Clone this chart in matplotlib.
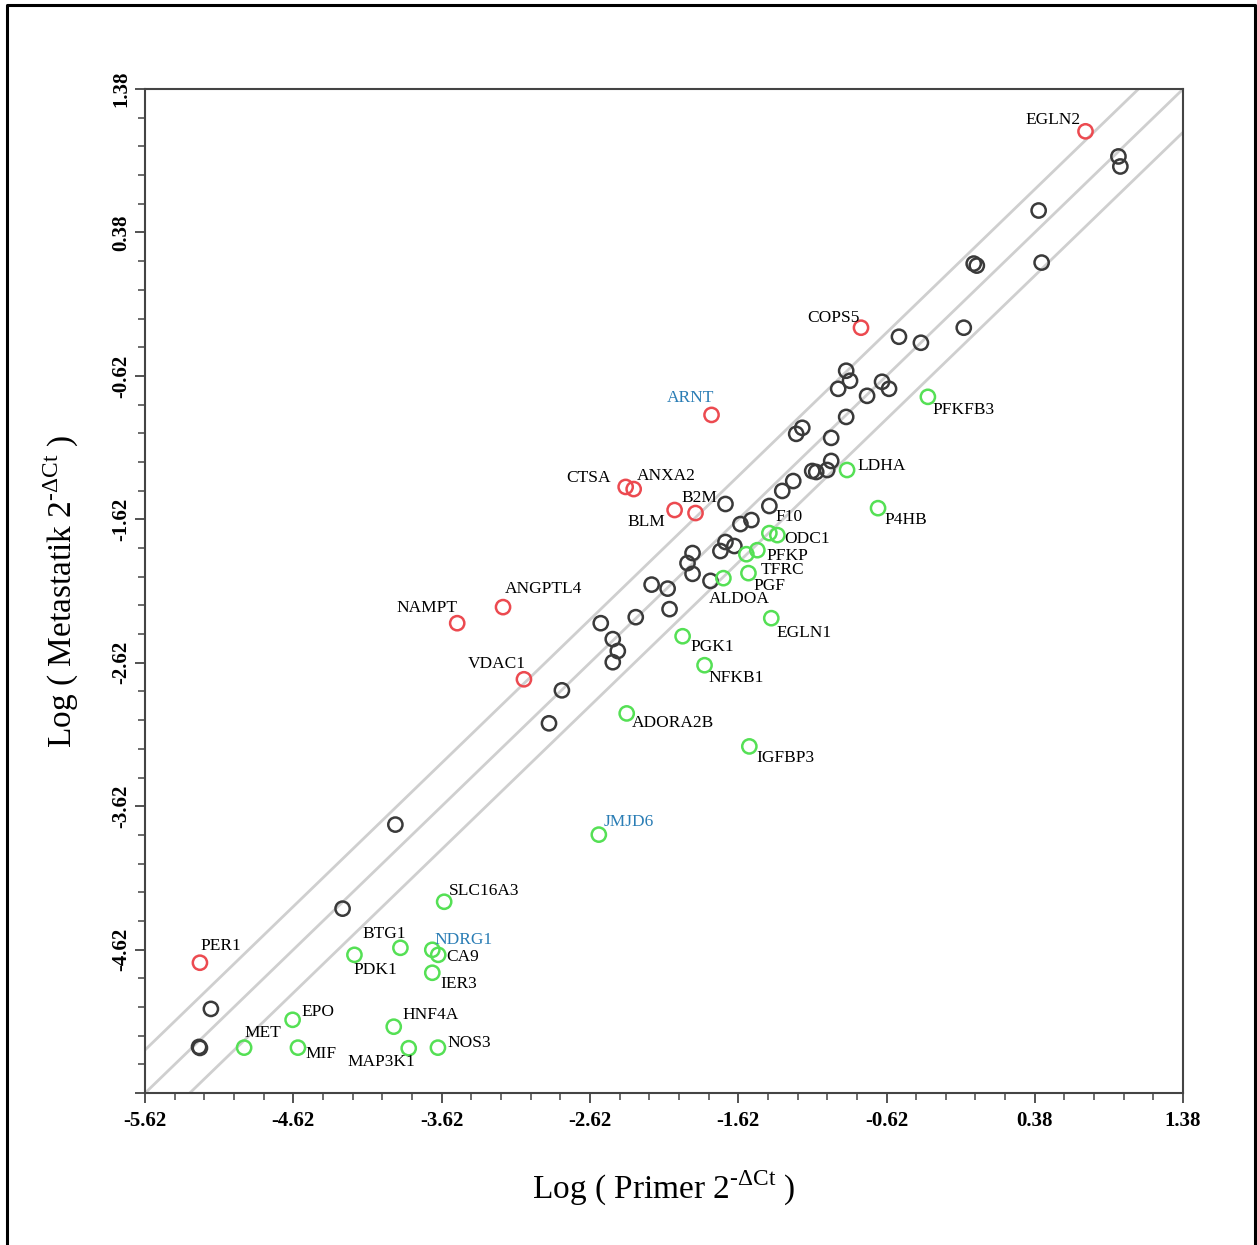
import matplotlib
matplotlib.use('Agg')
import matplotlib.pyplot as plt
import numpy as np
from matplotlib.ticker import FixedLocator

plt.rcParams['font.family'] = ['Liberation Serif', 'DejaVu Serif']
plt.rcParams['mathtext.fontset'] = 'custom'
plt.rcParams['mathtext.rm'] = 'Liberation Serif'

# genes without label (grey circles)
grey_x = [0.944, 0.957, 0.406, -0.032, -0.011, 0.426, -0.099, -0.388, -0.536,
          -0.892, -0.866, -0.946, -0.650, -0.603, -0.751, -0.892, -1.229, -1.188,
          -0.993, -0.993, -1.020, -1.121, -1.094, -1.249, -1.323, -1.410, -1.706,
          -1.531, -1.605, -1.706, -1.646, -1.740, -1.928, -1.962, -1.928, -1.807,
          -2.204, -2.096, -2.083, -2.311, -2.547, -2.466, -2.432, -2.466, -2.809,
          -2.896, -3.932, -4.288, -5.176, -5.250, -5.256]
grey_y = [0.910, 0.840, 0.533, 0.163, 0.149, 0.170, -0.284, -0.389, -0.347,
          -0.584, -0.654, -0.710, -0.661, -0.710, -0.759, -0.906, -1.024, -0.982,
          -1.052, -1.213, -1.276, -1.283, -1.290, -1.353, -1.422, -1.527, -1.513,
          -1.625, -1.653, -1.778, -1.806, -1.841, -1.855, -1.925, -2.000, -2.049,
          -2.075, -2.103, -2.246, -2.302, -2.344, -2.455, -2.538, -2.616, -2.812,
          -3.042, -3.748, -4.334, -5.033, -5.305, -5.298]

# up-regulated in metastatic (red)
red_genes = ['EGLN2', 'COPS5', 'ARNT', 'CTSA', 'ANXA2', 'BLM', 'B2M',
             'ANGPTL4', 'NAMPT', 'VDAC1', 'PER1']
red_x = [0.722, -0.792, -1.800, -2.379, -2.325, -2.049, -1.908,
         -3.206, -3.515, -3.065, -5.250]
red_y = [1.085, -0.284, -0.892, -1.394, -1.409, -1.555, -1.576,
         -2.232, -2.344, -2.735, -4.711]

# down-regulated in metastatic (green)
green_genes = ['PFKFB3', 'LDHA', 'P4HB', 'F10', 'ODC1', 'PFKP', 'TFRC', 'PGF',
               'ALDOA', 'EGLN1', 'PGK1', 'NFKB1', 'ADORA2B', 'IGFBP3', 'JMJD6',
               'SLC16A3', 'BTG1', 'PDK1', 'NDRG1', 'CA9', 'IER3', 'EPO', 'HNF4A',
               'MET', 'MIF', 'MAP3K1', 'NOS3']
green_x = [-0.341, -0.886, -0.677, -1.410, -1.356, -1.491, -1.565, -1.551,
           -1.720, -1.397, -1.995, -1.847, -2.372, -1.545, -2.560,
           -3.603, -3.898, -4.208, -3.683, -3.643, -3.683, -4.625, -3.943,
           -4.952, -4.589, -3.842, -3.645]
green_y = [-0.766, -1.276, -1.542, -1.716, -1.730, -1.835, -1.863, -1.995,
           -2.030, -2.309, -2.435, -2.637, -2.973, -3.203, -3.818,
           -4.286, -4.607, -4.656, -4.621, -4.656, -4.781, -5.109, -5.157,
           -5.303, -5.303, -5.307, -5.303]

blue_labels = ['ARNT', 'JMJD6', 'NDRG1']

# label offsets in pixels (dx, dy)
offsets = {
    'EGLN2': (-32, 11), 'COPS5': (-28, 10), 'ARNT': (-21, 17), 'CTSA': (-37, 9),
    'ANXA2': (33, 13), 'BLM': (-28, -12), 'B2M': (4, 15), 'ANGPTL4': (40, 18),
    'NAMPT': (-30, 15), 'VDAC1': (-27, 15), 'PER1': (21, 17),
    'PFKFB3': (36, -13), 'LDHA': (35, 4), 'P4HB': (28, -12), 'F10': (20, 16),
    'ODC1': (30, -4), 'PFKP': (30, -6), 'TFRC': (36, -16), 'PGF': (21, -13),
    'ALDOA': (16, -21), 'EGLN1': (33, -15), 'PGK1': (30, -11), 'NFKB1': (32, -13),
    'ADORA2B': (46, -10), 'IGFBP3': (36, -12), 'JMJD6': (30, 13),
    'SLC16A3': (40, 11), 'BTG1': (-16, 14), 'PDK1': (21, -15), 'NDRG1': (31, 10),
    'CA9': (24, -2), 'IER3': (26, -11), 'EPO': (25, 8), 'HNF4A': (37, 12),
    'MET': (19, 15), 'MIF': (23, -6), 'MAP3K1': (-27, -14), 'NOS3': (31, 5),
}

fig = plt.figure(figsize=(12.57, 12.45), dpi=100)
ax = fig.add_axes([0.1154, 0.122, 0.8258, 0.8065])

lo, hi = -5.62, 1.38
fold = np.log10(2)
line_x = np.array([lo, hi])
for off in [fold, 0, -fold]:
    ax.plot(line_x, line_x + off, color='#cfcfcf', lw=2, zorder=1)

mk = dict(marker='o', s=105, facecolors='none', linewidths=1.8, zorder=3)
ax.scatter(grey_x, grey_y, edgecolors='#3a3a3a', **mk)
ax.scatter(red_x, red_y, edgecolors='#ec4a50', **mk)
ax.scatter(green_x, green_y, edgecolors='#55e055', **mk)

for names, xs, ys in [(red_genes, red_x, red_y), (green_genes, green_x, green_y)]:
    for g, x, y in zip(names, xs, ys):
        c = '#2a7db5' if g in blue_labels else 'black'
        ax.annotate(g, (x, y), xytext=offsets[g], textcoords='offset pixels',
                    ha='center', va='center', fontsize=12.5, color=c)

ax.set_xlim(lo, hi)
ax.set_ylim(lo, hi)
ticks = np.arange(lo, hi + 0.01, 1.0)
ax.xaxis.set_major_locator(FixedLocator(ticks))
ax.yaxis.set_major_locator(FixedLocator(ticks))
minor = np.arange(lo, hi + 0.01, 0.2)
ax.xaxis.set_minor_locator(FixedLocator(minor))
ax.yaxis.set_minor_locator(FixedLocator(minor))
labels = ['%.2f' % t for t in ticks]
ylabels = [''] + labels[1:]
ax.set_xticklabels(labels, fontsize=15, fontweight='bold')
ax.set_yticklabels(ylabels, fontsize=15, fontweight='bold', rotation=90, va='center')
ax.tick_params(which='major', length=7, width=1.3, color='#444444', direction='out')
ax.tick_params(which='minor', length=5, width=1.1, color='#444444', direction='out')
ax.tick_params(axis='x', pad=6)
ax.tick_params(axis='y', pad=3)
for s in ax.spines.values():
    s.set_color('#444444')
    s.set_linewidth(1.5)

ax.set_xlabel(r'Log ( Primer 2$^{\text{-ΔCt}}$ )', fontsize=24, labelpad=27)
ax.set_ylabel(r'Log ( Metastatik 2$^{\text{-ΔCt}}$ )', fontsize=24, labelpad=22)

# outer frame (open at bottom)
fx = [7 / 1257, 7 / 1257, 1255 / 1257, 1255 / 1257]
fy = [0, 1 - 5 / 1245, 1 - 5 / 1245, 0]
fig.add_artist(plt.Line2D(fx, fy, transform=fig.transFigure, color='black', lw=2.2))

plt.savefig('out.png', dpi=100)
